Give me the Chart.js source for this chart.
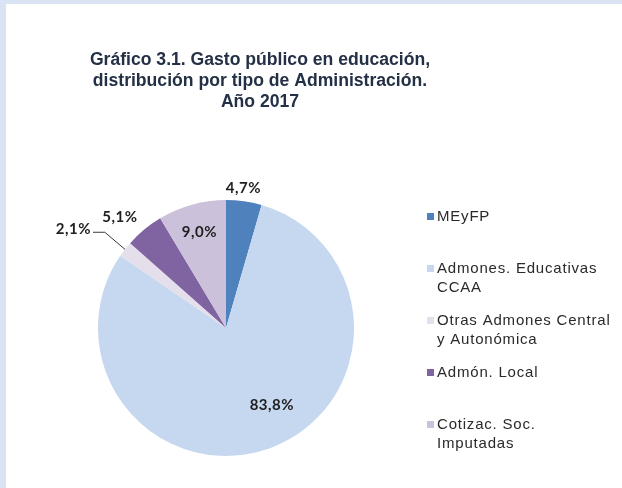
<!DOCTYPE html>
<html>
<head>
<meta charset="utf-8">
<script src="https://cdn.jsdelivr.net/npm/chart.js@4.4.0/dist/chart.umd.min.js"></script>
<style>
  html, body { margin: 0; padding: 0; background: #dae3f3; }
  #wrap { position: absolute; left: 0; top: 0; width: 622px; height: 488px; }
</style>
</head>
<body>
<div id="wrap"><canvas id="pieChart"></canvas></div>
<script>
// Data
const titleLines = ['Gráfico 3.1. Gasto público en educación,', 'distribución por tipo de Administración.', 'Año 2017'];
const categories = [['MEyFP'], ['Admones. Educativas', 'CCAA'], ['Otras Admones Central', 'y Autonómica'], ['Admón. Local'], ['Cotizac. Soc.', 'Imputadas']];
const shares = [4.7, 83.8, 2.1, 5.1, 9.0];
const shareLabels = ['4,7%', '83,8%', '2,1%', '5,1%', '9,0%'];

// Styles
const sliceColors = ['#4f81bd', '#c6d8ef', '#e5dfec', '#8064a2', '#ccc1da'];
const labelRadius = [1.10, 0.70, 1.42, 1.20, 0.78];   // times the outer radius
const labelShift = [-1, -11, -5, -4, 0];               // degrees from the slice middle
const leaderLines = [false, false, true, false, false];

// Frame + title + legend + value labels
const decorPlugin = {
    id: 'decor',
    beforeDraw(chart) {
        const ctx = chart.ctx;
        ctx.save();
        ctx.fillStyle = '#dae3f3';
        ctx.fillRect(0, 0, chart.width, chart.height);
        ctx.fillStyle = '#ffffff';
        ctx.fillRect(6, 4, chart.width - 6, chart.height - 4);

        // title
        ctx.fillStyle = '#243045';
        ctx.font = 'bold 17.6px "Liberation Sans", Arial, sans-serif';
        ctx.textAlign = 'center';
        ctx.textBaseline = 'middle';
        titleLines.forEach((line, i) => ctx.fillText(line, 260, 60 + i * 21));

        // legend
        ctx.font = '15px "Liberation Sans", Arial, sans-serif';
        ctx.letterSpacing = '0.8px';
        ctx.textAlign = 'left';
        categories.forEach((lines, i) => {
            const y = 217 + i * 52;
            ctx.fillStyle = sliceColors[i];
            ctx.fillRect(427, y - 4, 7, 7);
            ctx.fillStyle = '#2a2a2a';
            lines.forEach((t, j) => ctx.fillText(t, 437, y + j * 19));
        });
        ctx.restore();
    },
    afterDatasetsDraw(chart) {
        const ctx = chart.ctx;
        const meta = chart.getDatasetMeta(0);
        ctx.save();
        ctx.font = 'bold 15px Lato, "Open Sans", sans-serif';
        ctx.letterSpacing = '0.5px';
        ctx.textAlign = 'center';
        ctx.textBaseline = 'middle';
        meta.data.forEach((arc, i) => {
            const p = arc.getProps(['x', 'y', 'startAngle', 'endAngle', 'outerRadius'], true);
            const mid = (p.startAngle + p.endAngle) / 2;
            const a = mid + labelShift[i] * Math.PI / 180;
            const lx = p.x + Math.cos(a) * p.outerRadius * labelRadius[i];
            const ly = p.y + Math.sin(a) * p.outerRadius * labelRadius[i];
            if (leaderLines[i]) {
                const w = ctx.measureText(shareLabels[i]).width;
                const ex = p.x + Math.cos(mid) * p.outerRadius;
                const ey = p.y + Math.sin(mid) * p.outerRadius;
                const kx = p.x + Math.cos(mid) * p.outerRadius * 1.2;
                const ky = ly + 3;
                ctx.strokeStyle = '#3a3a3a';
                ctx.lineWidth = 1;
                ctx.beginPath();
                ctx.moveTo(lx + w / 2 + 2, ky);
                ctx.lineTo(kx, ky);
                ctx.lineTo(ex, ey);
                ctx.stroke();
            }
            ctx.fillStyle = '#1e1e1e';
            ctx.fillText(shareLabels[i], lx, ly);
        });
        ctx.restore();
    }
};

new Chart(document.getElementById('pieChart'), {
    type: 'pie',
    data: {
        labels: categories.map(c => c.join(' ')),
        datasets: [{
            data: shares,
            backgroundColor: sliceColors,
            borderWidth: 0,
            offset: 0,
            hoverOffset: 0
        }]
    },
    options: {
        responsive: true,
        maintainAspectRatio: false,
        animation: false,
        events: [],
        layout: {
            padding: { left: 98, right: 268, top: 200, bottom: 32 }
        },
        plugins: {
            legend: { display: false },
            title: { display: false },
            tooltip: { enabled: false }
        }
    },
    plugins: [decorPlugin]
});
</script>
</body>
</html>
